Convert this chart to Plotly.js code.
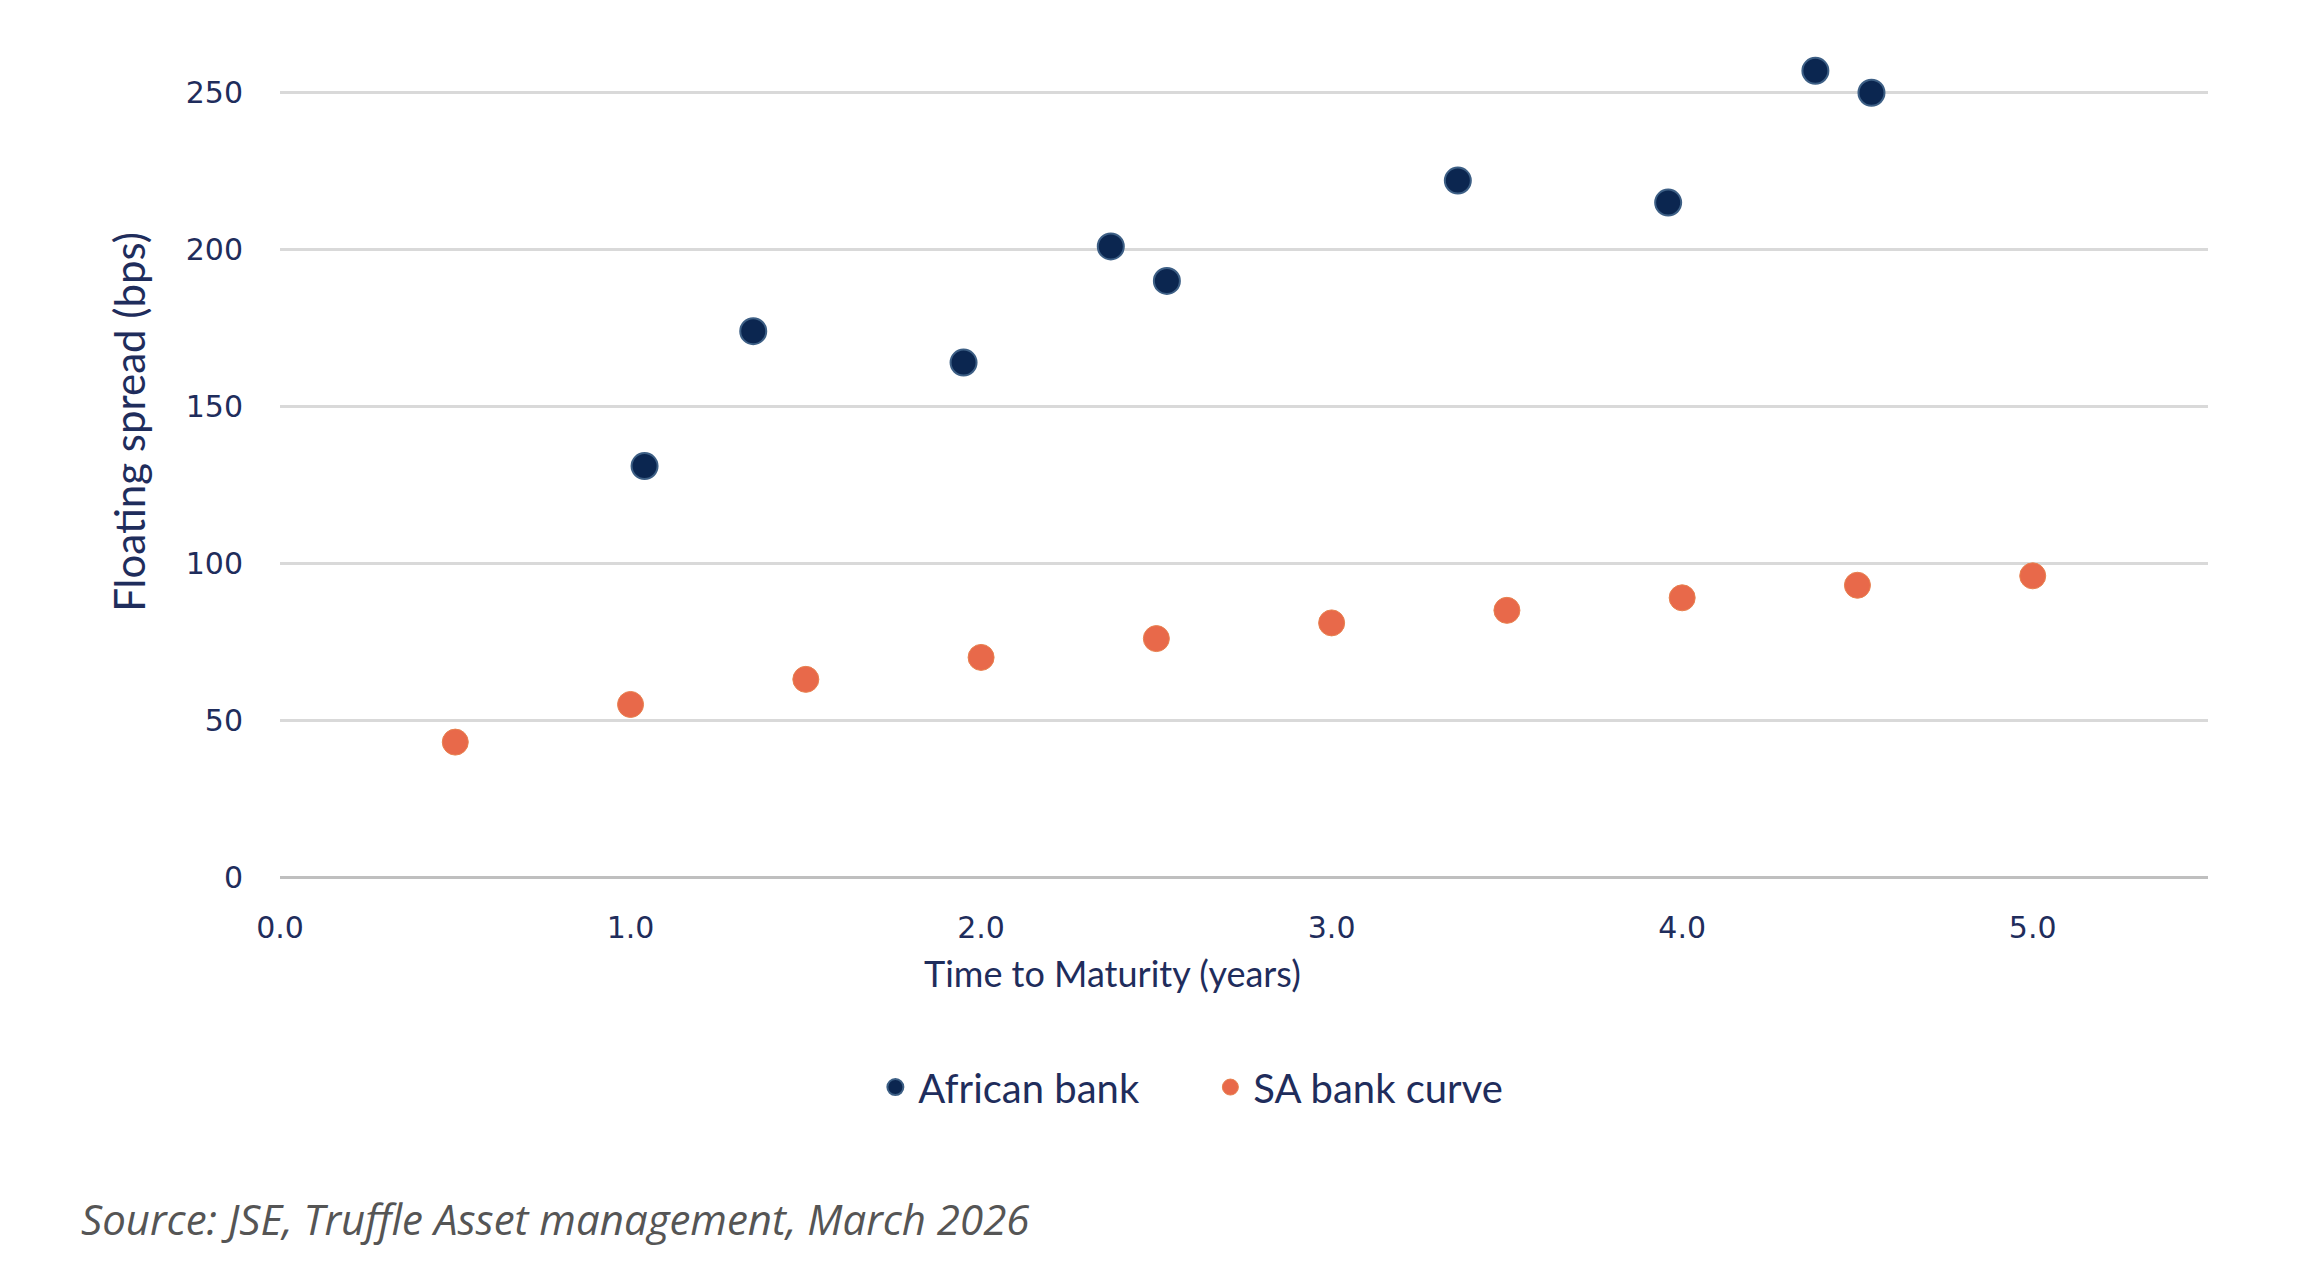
<!DOCTYPE html>
<html>
<head>
<meta charset="utf-8">
<script src="https://cdn.plot.ly/plotly-3.0.1.min.js"></script>
<style>
  html, body { margin: 0; padding: 0; background: #fff; }
  #chart { width: 2314px; height: 1266px; }
</style>
</head>
<body>
<div id="chart"></div>
<script>
// African bank bonds: maturity (years) vs floating spread (bps)
const africanYears = [1.04, 1.35, 1.95, 2.37, 2.53, 3.36, 3.96, 4.38, 4.54];
const africanSpread = [131, 174, 164, 201, 190, 222, 215, 257, 250];

// SA bank curve
const saYears = [0.5, 1.0, 1.5, 2.0, 2.5, 3.0, 3.5, 4.0, 4.5, 5.0];
const saSpread = [43, 55, 63, 70, 76, 81, 85, 89, 93, 96];

const xTicks = [0, 1, 2, 3, 4, 5];
const xTickText = ['0.0', '1.0', '2.0', '3.0', '4.0', '5.0'];
const yTicks = [0, 50, 100, 150, 200, 250];

const navy = '#1f2d5c';

const data = [
    {
        x: africanYears,
        y: africanSpread,
        name: 'African bank',
        type: 'scatter',
        mode: 'markers',
        marker: { size: 26, color: '#0b2650', line: { color: '#3d5f85', width: 2 } }
    },
    {
        x: saYears,
        y: saSpread,
        name: 'SA bank curve',
        type: 'scatter',
        mode: 'markers',
        marker: { size: 26, color: '#e8694a', line: { color: '#e8814f', width: 1 } }
    }
];

const layout = {
    width: 2314,
    height: 1266,
    paper_bgcolor: '#fff',
    plot_bgcolor: '#fff',
    margin: { l: 280, r: 106, t: 30, b: 389 },
    xaxis: {
        range: [0, 5.5],
        tickvals: xTicks,
        ticktext: xTickText,
        showgrid: false,
        zeroline: false,
        showline: false,
        ticks: '',
        ticklabelstandoff: 30,
        tickfont: { family: 'DejaVu Sans', size: 30, color: navy }
    },
    yaxis: {
        range: [0, 270],
        tickvals: yTicks,
        showgrid: true,
        gridcolor: '#d9d9d9',
        gridwidth: 3,
        zeroline: true,
        zerolinecolor: '#bfbfbf',
        zerolinewidth: 3,
        showline: false,
        ticks: '',
        ticklabelstandoff: 36,
        tickfont: { family: 'DejaVu Sans', size: 30, color: navy }
    },
    showlegend: true,
    legend: {
        orientation: 'h',
        x: 0.481,
        xanchor: 'center',
        y: -0.248,
        yanchor: 'middle',
        font: { family: 'Lato', size: 40, color: navy },
        itemsizing: 'trace',
        itemwidth: 36,
        entrywidth: 284,
        tracegroupgap: 0
    },
    annotations: [
        {
            text: 'Time to Maturity (years)',
            xref: 'paper', yref: 'paper',
            x: 0.432, y: -0.113,
            xanchor: 'center', yanchor: 'middle',
            showarrow: false,
            font: { family: 'Lato', size: 36, color: navy }
        },
        {
            text: 'Floating spread (bps)',
            xref: 'paper', yref: 'paper',
            x: -0.078, y: 0.537,
            xanchor: 'center', yanchor: 'middle',
            textangle: -90,
            showarrow: false,
            font: { family: 'Lato', size: 42, color: navy }
        },
        {
            text: '<i>Source: JSE, Truffle Asset management, March 2026</i>',
            xref: 'paper', yref: 'paper',
            x: -0.104, y: -0.403,
            xanchor: 'left', yanchor: 'middle',
            showarrow: false,
            font: { family: 'Open Sans', size: 42, color: '#555555' }
        }
    ]
};

Plotly.newPlot('chart', data, layout, { displayModeBar: false, staticPlot: true });
</script>
</body>
</html>
